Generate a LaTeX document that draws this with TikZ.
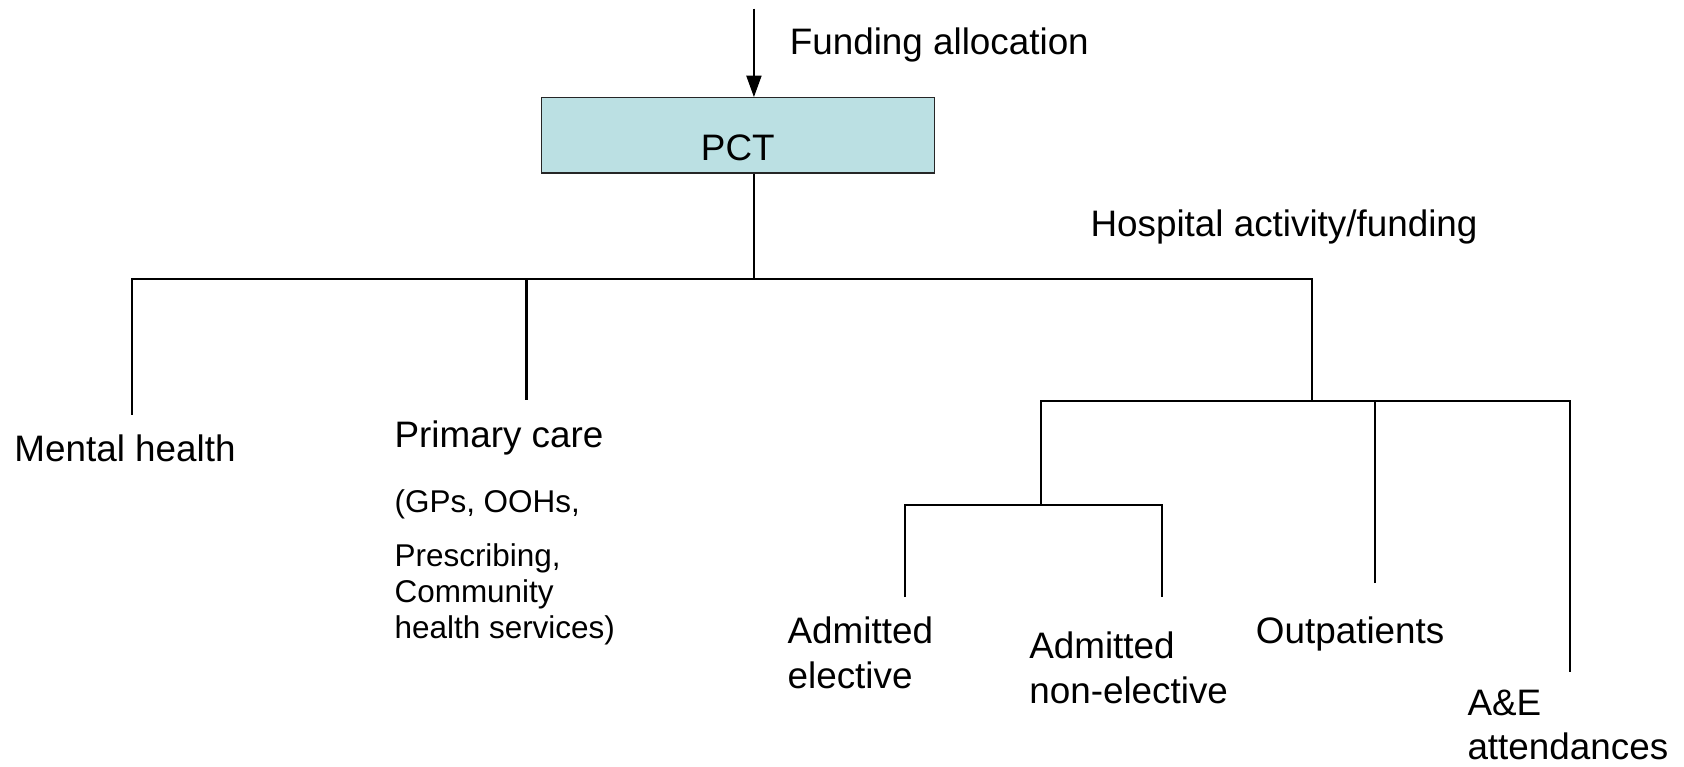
\documentclass[tikz,border=0pt]{standalone}
\usepackage{fontspec}
\setmainfont{Liberation Sans}
\usetikzlibrary{arrows.meta}
\definecolor{pctfill}{RGB}{187,224,227}
\begin{document}
\begin{tikzpicture}[x=0.5pt,y=-0.5pt,
  conn/.style={line width=0.9pt},
  thickconn/.style={line width=1.3pt},
  lbl/.style={anchor=base west,inner sep=0pt,font=\fontsize{17.15}{21}\selectfont},
  mlbl/.style={anchor=north west,inner sep=0pt,align=left,font=\fontsize{17.15}{21}\selectfont},
  smlbl/.style={anchor=north west,inner sep=0pt,align=left,font=\fontsize{14.65}{16.75}\selectfont},
  pctbox/.style={draw=black!85,line width=0.6pt,fill=pctfill,inner sep=0pt,
    minimum width=183pt,minimum height=35pt,text height=23pt,text depth=0pt,
    font=\fontsize{17.15}{21}\selectfont}]
\useasboundingbox (0,0) rectangle (1568,714);

% nodes
\node[pctbox] (pct) at (687,126) {PCT};
\node[lbl] (fund) at (735,51) {Funding allocation};
\node[lbl] (hosp) at (1015,220) {Hospital activity/funding};
\node[lbl] (mh) at (13,430) {Mental health};
\node[lbl] (pc) at (367,417) {Primary care};
\node[smlbl] (pcd) at (367,456) {(GPs, OOHs,\\[8.25pt]Prescribing,\\Community\\health services)};
\node[mlbl] (el) at (733,574) {Admitted\\elective};
\node[mlbl] (ne) at (958,588) {Admitted\\non-elective};
\node[lbl] (op) at (1169,599) {Outpatients};
\node[mlbl, font=\fontsize{17.15}{20.5}\selectfont] (ae) at (1366,642) {A\&E\\attendances};

% connector coordinates
\coordinate (fa) at (702,8);
\coordinate (j0) at (702,260);
\coordinate (mhE) at (123,386);
\coordinate (pcE) at (490,372);
\coordinate (hoJ) at (1222,373);
\coordinate (adJ) at (969,470);
\coordinate (opE) at (1280,543);
\coordinate (aeE) at (1462,626);
\coordinate (elE) at (843,556);
\coordinate (neE) at (1082,556);

% connectors
\draw[conn,-{Triangle[length=10pt,width=7pt]}] (fa) -- (fa |- pct.north);
\draw[conn] (j0 |- pct.south) -- (j0);
\draw[conn] (mhE) |- (hoJ |- j0) -- (hoJ);
\draw[thickconn] (pcE) -- (pcE |- j0);
\draw[conn] (adJ) |- (aeE |- hoJ) -- (aeE);
\draw[conn] (opE) -- (opE |- hoJ);
\draw[conn] (elE) |- (neE |- adJ) -- (neE);
\end{tikzpicture}
\end{document}
